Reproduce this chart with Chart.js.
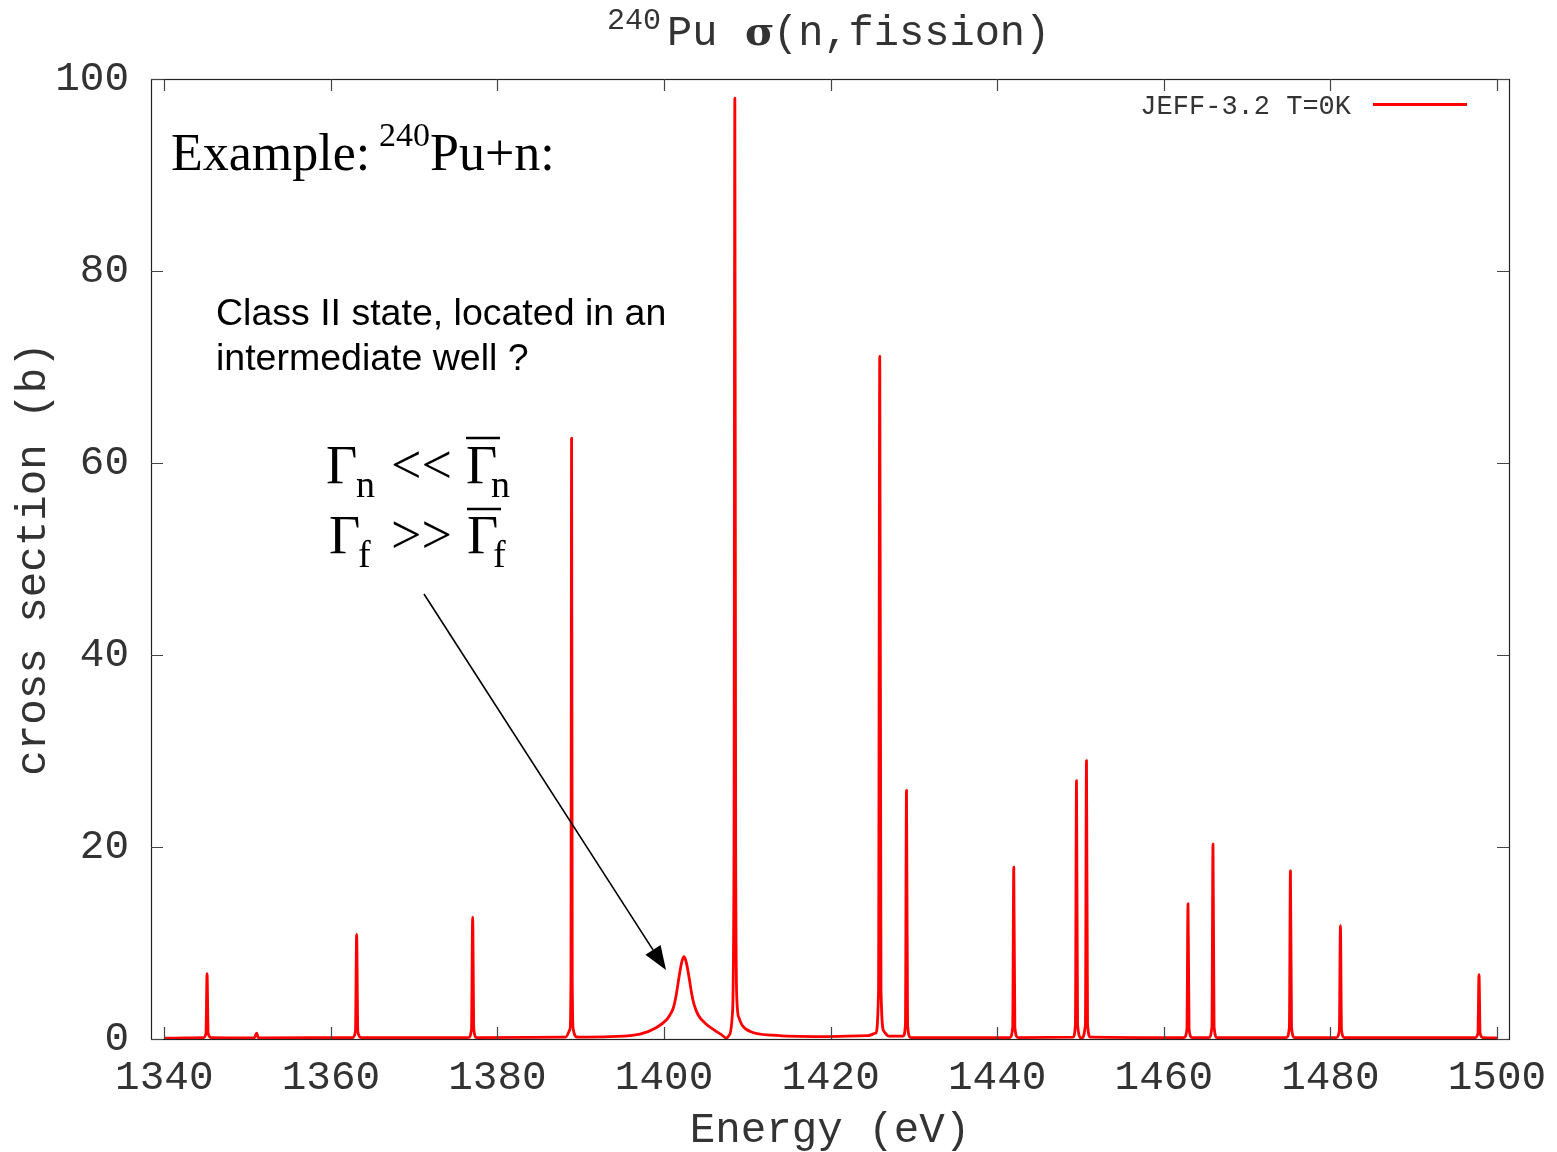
<!DOCTYPE html>
<html>
<head>
<meta charset="utf-8">
<title>240Pu fission cross section</title>
<script src="https://cdn.jsdelivr.net/npm/chart.js@4.4.1/dist/chart.umd.min.js"></script>
<style>
  html, body { margin: 0; padding: 0; background: #fff; }
  #chart { display: block; }
</style>
</head>
<body>
<canvas id="chart" width="1557" height="1152"></canvas>
<script>
// Energy grid (eV) and cross section (b)
const energy = [
    1340.0, 1344.7, 1345.0, 1345.13, 1345.26, 1345.6,
    1350.8, 1351.09, 1351.3,
    1362.6, 1362.95, 1363.09, 1363.23, 1363.6,
    1376.5, 1376.88, 1377.02, 1377.16, 1377.5,
    1388.2, 1388.7, 1388.82, 1388.90, 1388.98, 1389.1, 1389.6,
    1393.5, 1397.1, 1399.1, 1400.3, 1400.7, 1401.1, 1401.4, 1401.7, 1401.9, 1402.15, 1402.38,
    1402.6, 1402.85, 1403.1, 1403.3, 1403.6, 1404.1, 1405.0, 1406.0, 1406.8, 1407.5,
    1407.9, 1408.2, 1408.40, 1408.50, 1408.60, 1408.75, 1409.0, 1409.4, 1410.6, 1413.0, 1419.0,
    1424.5, 1425.4, 1425.75, 1425.90, 1426.05, 1426.4, 1427.0,
    1428.7, 1428.98, 1429.11, 1429.24, 1429.6,
    1441.5, 1441.86, 1441.99, 1442.12, 1442.5,
    1449.1, 1449.39, 1449.52, 1449.65, 1450.1, 1450.59, 1450.72, 1450.85, 1451.2,
    1462.4, 1462.78, 1462.91, 1463.04, 1463.4,
    1465.4, 1465.78, 1465.91, 1466.04, 1466.4,
    1474.7, 1475.08, 1475.21, 1475.34, 1475.7,
    1480.7, 1481.08, 1481.21, 1481.34, 1481.7,
    1497.4, 1497.72, 1497.85, 1497.98, 1498.3, 1500.0
];
const sigma = [
    0.10, 0.15, 0.6, 6.8, 0.6, 0.15,
    0.12, 0.6, 0.12,
    0.15, 0.8, 10.9, 0.8, 0.15,
    0.15, 1.0, 12.7, 1.0, 0.15,
    0.2, 1.0, 6.0, 62.6, 6.0, 1.0, 0.2,
    0.25, 0.5, 1.2, 2.0, 2.5, 3.2, 4.3, 5.9, 7.0, 8.1, 8.57,
    8.2, 7.2, 5.9, 4.8, 3.6, 2.5, 1.6, 0.95, 0.5, 0.1,
    0.5, 2.5, 20.0, 98.0, 20.0, 4.0, 2.2, 1.4, 0.7, 0.4, 0.25,
    0.35, 0.6, 5.0, 71.1, 5.0, 0.8, 0.3,
    0.3, 1.5, 25.9, 1.5, 0.15,
    0.15, 1.2, 17.9, 1.2, 0.15,
    0.2, 1.5, 26.9, 1.5, 0.1, 1.5, 29.0, 1.5, 0.2,
    0.15, 1.0, 14.1, 1.0, 0.15,
    0.15, 1.3, 20.3, 1.3, 0.15,
    0.15, 1.2, 17.5, 1.2, 0.15,
    0.15, 0.9, 11.8, 0.9, 0.15,
    0.15, 0.6, 6.7, 0.6, 0.15, 0.12
];
const xTicks = [1340, 1360, 1380, 1400, 1420, 1440, 1460, 1480, 1500];
const yTicks = [0, 20, 40, 60, 80, 100];

const seriesLabel = 'JEFF-3.2 T=0K';
const mono = '"Liberation Mono", "DejaVu Sans Mono", monospace';
const serif = '"Liberation Serif", "DejaVu Serif", serif';
const sans = '"Liberation Sans", Arial, sans-serif';
const textColor = '#333';

// frame, inward ticks, legend and the annotations drawn on top
const overlayPlugin = {
    id: 'overlay',
    beforeDraw(chart) {
        const ctx = chart.ctx;
        ctx.save();
        ctx.fillStyle = '#fff';
        ctx.fillRect(0, 0, chart.width, chart.height);
        ctx.restore();
    },
    afterDraw(chart) {
        const ctx = chart.ctx;
        const a = chart.chartArea;
        const xs = chart.scales.x;
        const ys = chart.scales.y;
        ctx.save();

        // frame
        ctx.strokeStyle = '#222';
        ctx.lineWidth = 1.2;
        ctx.strokeRect(a.left + 0.5, a.top + 0.5, a.right - a.left, a.bottom - a.top);

        // tick marks pointing inward
        ctx.strokeStyle = '#444';
        ctx.lineWidth = 1.2;
        ctx.beginPath();
        xTicks.forEach(v => {
            const px = Math.round(xs.getPixelForValue(v)) + 0.5;
            ctx.moveTo(px, a.bottom); ctx.lineTo(px, a.bottom - 12);
            ctx.moveTo(px, a.top); ctx.lineTo(px, a.top + 12);
        });
        yTicks.forEach(v => {
            const py = Math.round(ys.getPixelForValue(v)) + 0.5;
            ctx.moveTo(a.left, py); ctx.lineTo(a.left + 12, py);
            ctx.moveTo(a.right, py); ctx.lineTo(a.right - 12, py);
        });
        ctx.stroke();

        // plot title
        ctx.fillStyle = textColor;
        ctx.textBaseline = 'alphabetic';
        ctx.textAlign = 'left';
        ctx.font = '30px ' + mono;
        ctx.fillText('240', 607, 29);
        ctx.font = '42px ' + mono;
        ctx.fillText('Pu', 667, 45);
        ctx.font = 'bold 40px "DejaVu Serif", serif';
        ctx.fillText('σ', 745, 45);
        ctx.font = '42px ' + mono;
        ctx.fillText('(n,fission)', 773, 45);

        // legend
        ctx.font = '27px ' + mono;
        ctx.textAlign = 'right';
        ctx.fillText(chart.data.datasets[0].label, 1351, 114);
        ctx.strokeStyle = '#ff0000';
        ctx.lineWidth = 3;
        ctx.beginPath();
        ctx.moveTo(1373, 104.5);
        ctx.lineTo(1467, 104.5);
        ctx.stroke();

        // "Example: 240Pu+n:"
        ctx.fillStyle = '#000';
        ctx.textAlign = 'left';
        ctx.font = '52px ' + serif;
        ctx.fillText('Example:', 171, 170);
        ctx.font = '34px ' + serif;
        ctx.fillText('240', 379, 146);
        ctx.font = '52px ' + serif;
        ctx.fillText('Pu+n:', 430, 170);

        // class II state note
        ctx.font = '37.5px ' + sans;
        ctx.fillText('Class II state, located in an', 216, 325);
        ctx.fillText('intermediate well ?', 216, 370);

        // width relations
        ctx.font = '54px ' + serif;
        ctx.fillText('Γ', 326, 483);
        ctx.fillText('<<', 391, 483);
        ctx.fillText('Γ', 466, 483);
        ctx.fillText('Γ', 329, 553);
        ctx.fillText('>>', 391, 553);
        ctx.fillText('Γ', 467, 553);
        ctx.font = '38px ' + serif;
        ctx.fillText('n', 356, 497);
        ctx.fillText('n', 491, 497);
        ctx.fillText('f', 358, 567);
        ctx.fillText('f', 493, 567);
        ctx.strokeStyle = '#000';
        ctx.lineWidth = 2.5;
        ctx.beginPath();
        ctx.moveTo(466, 438); ctx.lineTo(500, 438);
        ctx.moveTo(467, 509); ctx.lineTo(501, 509);
        ctx.stroke();

        // arrow to the class II resonance
        const x0 = 424, y0 = 594, x1 = 666, y1 = 970;
        const ang = Math.atan2(y1 - y0, x1 - x0);
        const hl = 24, hw = 9;
        const bx = x1 - hl * Math.cos(ang), by = y1 - hl * Math.sin(ang);
        ctx.lineWidth = 1.6;
        ctx.beginPath();
        ctx.moveTo(x0, y0);
        ctx.lineTo(bx, by);
        ctx.stroke();
        ctx.fillStyle = '#000';
        ctx.beginPath();
        ctx.moveTo(x1, y1);
        ctx.lineTo(bx + hw * Math.sin(ang), by - hw * Math.cos(ang));
        ctx.lineTo(bx - hw * Math.sin(ang), by + hw * Math.cos(ang));
        ctx.closePath();
        ctx.fill();

        ctx.restore();
    }
};

const points = energy.map((e, i) => ({ x: e, y: sigma[i] }));

new Chart(document.getElementById('chart').getContext('2d'), {
    type: 'line',
    data: {
        datasets: [{
            label: seriesLabel,
            data: points,
            borderColor: '#ff0000',
            borderWidth: 2.8,
            borderJoinStyle: 'round',
            pointRadius: 0,
            fill: false,
            cubicInterpolationMode: 'monotone'
        }]
    },
    options: {
        responsive: false,
        animation: false,
        devicePixelRatio: 1,
        layout: { padding: { top: 79, right: 48, left: 0, bottom: 0 } },
        plugins: {
            legend: { display: false },
            tooltip: { enabled: false }
        },
        scales: {
            x: {
                type: 'linear',
                min: 1338.4,
                max: 1501.45,
                afterBuildTicks: scale => { scale.ticks = xTicks.map(v => ({ value: v })); },
                afterFit: scale => {
                    scale.height = 113;
                    scale.paddingLeft = 0;
                    scale.paddingRight = 0;
                },
                grid: { display: false, drawTicks: false },
                border: { display: false },
                ticks: {
                    font: { family: mono, size: 41 },
                    color: textColor,
                    padding: 15,
                    maxRotation: 0,
                    autoSkip: false,
                    callback: v => String(v)
                },
                title: {
                    display: true,
                    text: 'Energy (eV)',
                    font: { family: mono, size: 42.5, lineHeight: 1 },
                    color: textColor,
                    padding: { top: 0, bottom: 0 }
                }
            },
            y: {
                min: 0,
                max: 100,
                afterBuildTicks: scale => { scale.ticks = yTicks.map(v => ({ value: v })); },
                afterFit: scale => {
                    scale.width = 151;
                    scale.paddingTop = 0;
                    scale.paddingBottom = 0;
                },
                grid: { display: false, drawTicks: false },
                border: { display: false },
                ticks: {
                    font: { family: mono, size: 41 },
                    color: textColor,
                    padding: 22,
                    callback: v => String(v)
                },
                title: {
                    display: true,
                    text: 'cross section (b)',
                    font: { family: mono, size: 42.5, lineHeight: 1 },
                    color: textColor,
                    padding: { top: 12, bottom: 0 }
                }
            }
        }
    },
    plugins: [overlayPlugin]
});
</script>
</body>
</html>
